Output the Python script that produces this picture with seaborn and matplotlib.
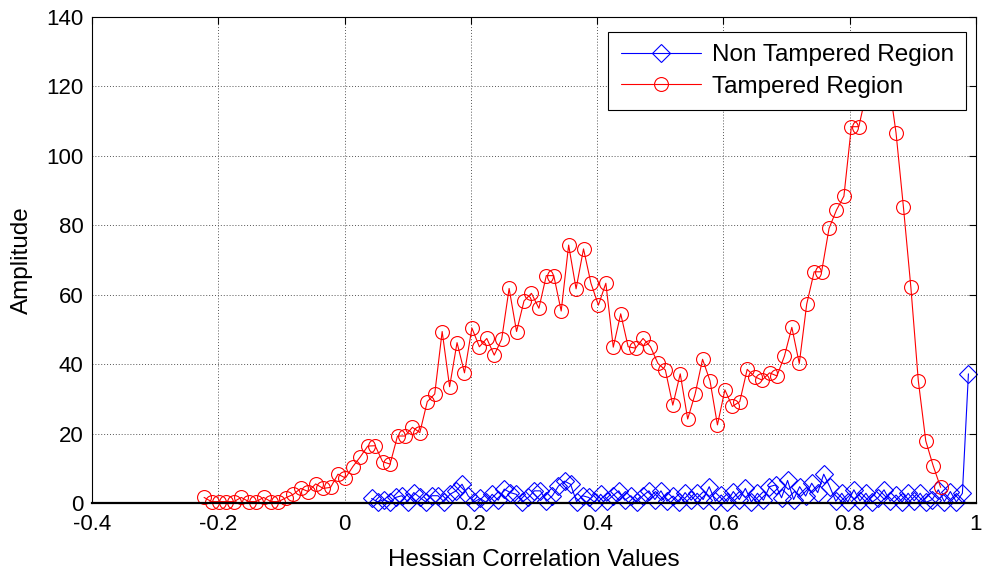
import numpy as np
import pandas as pd
import matplotlib
matplotlib.use("Agg")
import matplotlib.pyplot as plt
import seaborn as sns

# ---------------- data ----------------
# Tampered region: 100 histogram bins between these limits
tampered_x_start, tampered_x_end = -0.2225, 0.944
tampered_vals = [
    1.6, 0.4, 0.4, 0.4, 0.4, 1.6, 0.4, 0.4, 1.6, 0.4,
    0.4, 1.5, 2.5, 4.2, 3.3, 5.5, 4.2, 4.5, 8.3, 7.2,
    10.5, 13.3, 16.4, 16.5, 11.9, 11.2, 19.3, 19.3, 21.8, 20.3,
    29.2, 31.4, 49.4, 33.5, 46.2, 37.5, 50.4, 45.0, 47.4, 42.6,
    47.2, 61.8, 49.4, 58.2, 60.4, 56.1, 65.5, 65.5, 55.3, 74.3,
    61.7, 73.2, 63.3, 57.0, 63.3, 44.9, 54.5, 45.0, 44.6, 47.4,
    45.0, 40.2, 38.3, 28.2, 37.2, 24.2, 31.4, 41.4, 35.2, 22.5,
    32.6, 27.8, 29.2, 38.5, 36.4, 35.4, 37.5, 36.6, 42.3, 50.6,
    40.2, 57.3, 66.6, 66.6, 79.1, 84.4, 88.4, 108.4, 108.4, 118.0,
    128.0, 130.0, 122.0, 106.7, 85.2, 62.1, 35.2, 17.9, 10.7, 4.5,
]

# Non tampered region: 100 histogram bins between these limits
non_tampered_x_start, non_tampered_x_end = 0.0428, 0.988
non_tampered_vals = [
    1.3, 0.3, 1.0, 0.2, 1.6, 2.1, 0.4, 3.0, 1.6, 0.3,
    2.1, 2.1, 0.4, 2.5, 3.5, 5.4, 2.1, 0.3, 1.3, 0.2,
    2.5, 0.8, 4.0, 3.0, 2.5, 0.3, 1.6, 3.5, 3.5, 0.5,
    2.1, 4.9, 6.3, 5.4, 0.4, 2.1, 1.6, 0.2, 2.5, 0.5,
    2.1, 3.5, 0.8, 2.1, 0.3, 2.1, 3.5, 1.0, 3.5, 0.5,
    2.0, 0.3, 3.0, 0.8, 2.8, 1.0, 4.7, 0.5, 2.3, 0.4,
    3.3, 1.0, 4.2, 0.3, 2.8, 0.8, 4.7, 5.2, 1.5, 6.5,
    1.0, 4.7, 2.0, 5.7, 3.0, 8.3, 4.7, 0.5, 2.8, 0.3,
    3.8, 0.6, 2.8, 0.2, 1.5, 3.8, 0.5, 2.3, 0.3, 2.8,
    0.6, 2.8, 0.2, 1.0, 3.8, 0.4, 3.3, 0.3, 2.8, 37.2,
]

x_ticks = [-0.4, -0.2, 0, 0.2, 0.4, 0.6, 0.8, 1]
x_tick_labels = ["-0.4", "-0.2", "0", "0.2", "0.4", "0.6", "0.8", "1"]
y_ticks = [0, 20, 40, 60, 80, 100, 120, 140]

tampered_x = np.linspace(tampered_x_start, tampered_x_end, len(tampered_vals))
non_tampered_x = np.linspace(non_tampered_x_start, non_tampered_x_end, len(non_tampered_vals))

df_non = pd.DataFrame({"x": non_tampered_x, "y": non_tampered_vals})
df_tam = pd.DataFrame({"x": tampered_x, "y": tampered_vals})

# ---------------- plot ----------------
sns.set_style("white")
plt.rcParams["font.family"] = ["Liberation Sans", "DejaVu Sans"]
plt.rcParams["text.color"] = "black"
plt.rcParams["axes.labelcolor"] = "black"
plt.rcParams["xtick.color"] = "black"
plt.rcParams["ytick.color"] = "black"

fig = plt.figure(figsize=(9.87, 5.76), dpi=100)
ax = fig.add_axes([92 / 987, 1 - 503 / 576, (976 - 92) / 987, (503 - 17) / 576])

sns.lineplot(data=df_non, x="x", y="y", ax=ax, color="#0000ff", linewidth=0.8,
             marker="D", markersize=9, markerfacecolor="none",
             markeredgecolor="#0000ff", markeredgewidth=0.8,
             label="Non Tampered Region", estimator=None, clip_on=False)
sns.lineplot(data=df_tam, x="x", y="y", ax=ax, color="#ff0000", linewidth=0.8,
             marker="o", markersize=10, markerfacecolor="none",
             markeredgecolor="#ff0000", markeredgewidth=0.8,
             label="Tampered Region", estimator=None, clip_on=False)

ax.set_xlim(-0.4, 1)
ax.set_ylim(0, 140)
ax.set_xticks(x_ticks)
ax.set_xticklabels(x_tick_labels)
ax.set_yticks(y_ticks)
ax.tick_params(axis="both", direction="in", length=5, width=0.8, labelsize=16,
               top=True, right=True, colors="black", labelcolor="black")
ax.tick_params(axis="x", pad=8)
ax.tick_params(axis="y", pad=6)
ax.grid(True, linestyle=(0, (1, 2)), color="#555555", linewidth=0.7)
for s in ax.spines.values():
    s.set_color("black")
    s.set_linewidth(0.8)
ax.spines["bottom"].set_linewidth(1.6)

ax.set_xlabel("Hessian Correlation Values", fontsize=17.5, labelpad=10, color="black")
ax.set_ylabel("Amplitude", fontsize=17.5, labelpad=10, color="black")

leg = ax.legend(loc="upper right", bbox_to_anchor=(0.9887, 0.969),
                borderaxespad=0, fontsize=17.5, frameon=True, fancybox=False,
                framealpha=1, edgecolor="black", handlelength=3.3,
                handletextpad=0.45, borderpad=0.5, labelspacing=0.4)
leg.get_frame().set_linewidth(0.8)
for t in leg.get_texts():
    t.set_color("black")

fig.savefig("out.png", dpi=100)
